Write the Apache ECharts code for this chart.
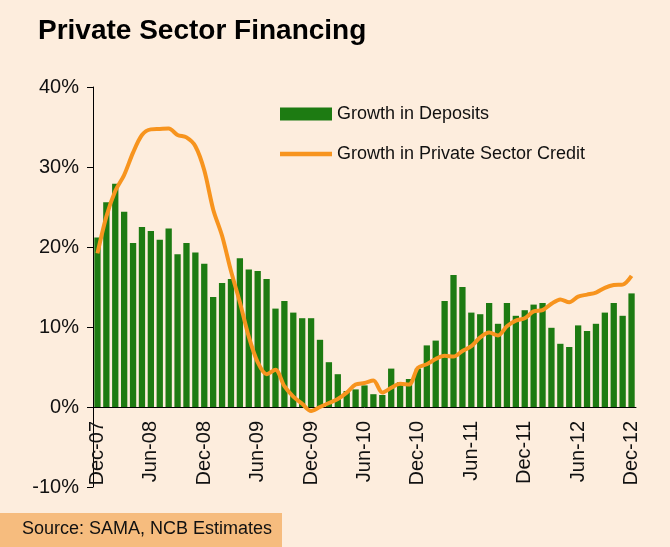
<!DOCTYPE html>
<html>
<head>
<meta charset="utf-8">
<script src="https://cdn.jsdelivr.net/npm/echarts@6/dist/echarts.min.js"></script>
<style>
html,body{margin:0;padding:0;background:#FDEDDD;}
#chart{width:670px;height:547px;}
</style>
</head>
<body>
<div id="chart"></div>
<script>
const months = [
 'Dec-07','Jan-08','Feb-08','Mar-08','Apr-08','May-08','Jun-08','Jul-08','Aug-08','Sep-08','Oct-08','Nov-08',
 'Dec-08','Jan-09','Feb-09','Mar-09','Apr-09','May-09','Jun-09','Jul-09','Aug-09','Sep-09','Oct-09','Nov-09',
 'Dec-09','Jan-10','Feb-10','Mar-10','Apr-10','May-10','Jun-10','Jul-10','Aug-10','Sep-10','Oct-10','Nov-10',
 'Dec-10','Jan-11','Feb-11','Mar-11','Apr-11','May-11','Jun-11','Jul-11','Aug-11','Sep-11','Oct-11','Nov-11',
 'Dec-11','Jan-12','Feb-12','Mar-12','Apr-12','May-12','Jun-12','Jul-12','Aug-12','Sep-12','Oct-12','Nov-12',
 'Dec-12'
];
const depositsGrowth = [
 21.2,25.6,27.9,24.4,20.5,22.5,22.0,20.9,22.3,19.1,20.5,19.3,
 17.9,13.75,15.5,16.0,18.6,17.2,17.0,16.0,12.3,13.25,11.8,11.1,
 11.1,8.4,5.6,4.1,2.0,2.2,2.7,1.6,1.5,4.8,3.1,3.5,
 4.8,7.7,8.3,13.25,16.5,15.0,11.8,11.6,13.0,10.4,13.0,11.4,
 12.1,12.8,13.0,9.9,7.9,7.5,10.2,9.5,10.4,11.8,13.0,11.4,
 14.2
];
const creditGrowth = [
 19.2,23.8,27.0,29.0,31.8,34.0,34.7,34.75,34.8,34.0,33.7,32.6,
 29.6,24.7,21.4,17.0,13.1,8.8,5.6,4.1,4.65,2.6,1.3,0.4,
 -0.5,0.0,0.5,1.0,1.8,2.8,3.0,3.3,1.8,2.4,2.9,2.8,
 4.9,5.35,6.0,6.4,6.3,7.0,7.6,8.7,9.3,8.95,10.1,10.8,
 11.1,11.95,12.1,12.9,13.45,13.1,13.8,14.05,14.3,14.9,15.25,15.3,
 16.4
];
const yTicks = {min: -10, max: 40, interval: 10};
const titleText = 'Private Sector Financing';
const sourceText = 'Source: SAMA, NCB Estimates';
const seriesNames = ['Growth in Deposits', 'Growth in Private Sector Credit'];

const FONT = '"Liberation Sans", Arial, Helvetica, sans-serif';
const chart = echarts.init(document.getElementById('chart'), null, {renderer: 'canvas'});
chart.setOption({
  backgroundColor: '#FDEDDD',
  animation: false,
  title: {
    text: titleText, left: 33, top: 12,
    textStyle: {fontFamily: FONT, fontSize: 28, fontWeight: 'bold', color: '#000'}
  },
  legend: {
    orient: 'vertical', left: 275, top: 100, itemGap: 22,
    itemWidth: 52, itemHeight: 13,
    textStyle: {fontFamily: FONT, fontSize: 18, color: '#111'},
    data: [
      {name: seriesNames[0], icon: 'rect'},
      {name: seriesNames[1], icon: 'path://M0,0 L52,0 L52,4.5 L0,4.5 Z'}
    ]
  },
  grid: {left: 93, top: 87, width: 543, height: 400, containLabel: false, outerBoundsMode: 'none'},
  xAxis: {
    type: 'category', data: months, boundaryGap: true, offset: -80,
    axisLine: {onZero: false, lineStyle: {color: '#000', width: 1}},
    axisTick: {interval: 5, length: 5, lineStyle: {color: '#000'}},
    axisLabel: {interval: 5, rotate: 90, margin: 14, fontFamily: FONT, fontSize: 20, color: '#111'},
    splitLine: {show: false}
  },
  yAxis: {
    type: 'value', min: yTicks.min, max: yTicks.max, interval: yTicks.interval,
    axisLine: {show: true, lineStyle: {color: '#000', width: 1}},
    axisTick: {show: true, length: 6, lineStyle: {color: '#000'}},
    axisLabel: {formatter: '{value}%', margin: 14, fontFamily: FONT, fontSize: 20, color: '#111'},
    splitLine: {show: false}
  },
  series: [
    {
      name: seriesNames[0], type: 'bar', data: depositsGrowth, barWidth: 6.3,
      itemStyle: {color: '#1D7B12'}, z: 2
    },
    {
      name: seriesNames[1], type: 'line', data: creditGrowth, smooth: 0.3,
      symbol: 'none', lineStyle: {color: '#F7941E', width: 4}, itemStyle: {color: '#F7941E'}, z: 3
    }
  ],
  graphic: [
    {type: 'rect', left: 0, top: 513, shape: {width: 282, height: 34}, style: {fill: '#F6BC7E'}},
    {type: 'text', left: 22, top: 520, style: {text: sourceText, font: '18px ' + FONT, fill: '#111'}}
  ]
});
</script>
</body>
</html>
